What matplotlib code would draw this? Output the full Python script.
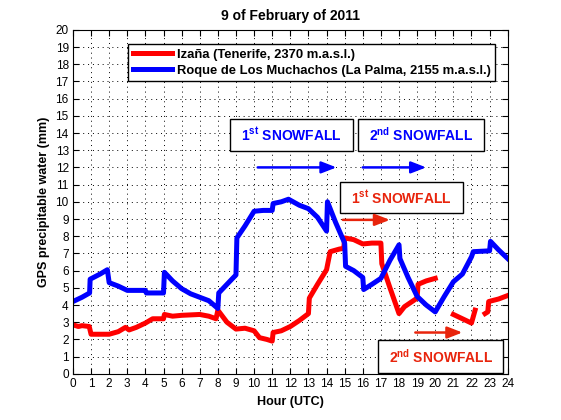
import numpy as np
import matplotlib
matplotlib.use("Agg")
import matplotlib.pyplot as plt
from matplotlib.patches import Rectangle

plt.rcParams['font.family'] = 'Liberation Sans'
plt.rcParams['mathtext.fontset'] = 'custom'
plt.rcParams['mathtext.rm'] = 'Liberation Sans:bold'
plt.rcParams['mathtext.bf'] = 'Liberation Sans:bold'

# Roque de Los Muchachos (blue)
hora_roque = [0, 0.5, 0.92, 0.95, 1.5, 1.9, 2.0, 2.5, 3.0, 4.0, 4.05, 5.0, 5.05, 5.5, 6.0,
              6.5, 7.0, 7.5, 8.0, 8.05, 8.5, 9.0, 9.05, 9.5, 10.0, 10.5, 11.0, 11.05, 11.5,
              11.9, 12.5, 13.0, 13.5, 14.0, 14.05, 14.5, 15.0, 15.05, 15.5, 16.0, 16.05,
              16.5, 17.0, 17.5, 18.0, 18.05, 18.5, 19.0, 19.5, 20.0, 20.5, 21.0, 21.5,
              22.0, 22.1, 23.0, 23.05, 23.5, 24.0]
pw_roque = [4.2, 4.45, 4.7, 5.5, 5.8, 6.05, 5.3, 5.1, 4.85, 4.85, 4.7, 4.7, 5.9, 5.4, 4.95,
            4.65, 4.45, 4.25, 3.8, 4.7, 5.2, 5.75, 7.9, 8.6, 9.45, 9.5, 9.5, 9.9, 10.0,
            10.15, 9.8, 9.6, 9.1, 8.3, 10.0, 8.8, 7.6, 6.25, 6.0, 5.6, 4.9,
            5.2, 5.55, 6.6, 7.5, 6.7, 5.6, 4.5, 4.0, 3.6, 4.5, 5.35, 5.8,
            6.8, 7.1, 7.15, 7.7, 7.2, 6.7]

# Izaña (red), NaN = no data
hora_izana = [0, 0.3, 0.5, 0.9, 1.0, 1.5, 2.0, 2.5, 2.9, 3.1, 3.5, 4.0, 4.4, 5.0, 5.05,
              5.5, 6.0, 7.0, 7.5, 7.9, 8.0, 8.5, 9.0, 9.5, 10.0, 10.3, 10.7, 11.0, 11.05,
              11.5, 12.0, 12.5, 13.0, 13.05, 13.5, 14.0, 14.2, 14.7, 14.95, 15.0, 15.5,
              16.0, 16.5, 17.0, 17.05, 17.5, 18.0, 18.3, 19.0, 19.05, 19.5, 20.0, 20.5,
              21.0, 21.5, 22.0, 22.2, 22.5, 22.75, 22.9, 22.95, 23.5, 24.0]
pw_izana = [2.85, 2.75, 2.8, 2.75, 2.3, 2.3, 2.3, 2.45, 2.7, 2.55, 2.7, 2.95, 3.2, 3.2, 3.45,
            3.35, 3.4, 3.45, 3.35, 3.2, 3.7, 3.0, 2.6, 2.65, 2.5, 2.1, 2.0, 1.9, 2.4,
            2.5, 2.75, 3.1, 3.5, 4.4, 5.2, 6.05, 7.1, 7.25, 7.3, 7.9, 7.8,
            7.55, 7.6, 7.6, 6.4, 5.0, 3.5, 3.9, 4.4, 5.2, 5.4, 5.55, np.nan,
            3.45, 3.2, 2.95, 3.7, np.nan, 3.5, 3.6, 4.2, 4.35, 4.55]

rojo = '#e8240c'
azul = '#0000ff'

fig = plt.figure(figsize=(5.61, 4.2), dpi=100)
ax = fig.add_axes([0.130, 0.110, 0.775, 0.819])

ax.plot(hora_izana, pw_izana, color='#ff0000', lw=3.6, label='Izaña (Tenerife, 2370 m.a.s.l.)')
ax.plot(hora_roque, pw_roque, color=azul, lw=3.6, label='Roque de Los Muchachos (La Palma, 2155 m.a.s.l.)')

ax.set_xlim(0, 24)
ax.set_ylim(0, 20)
ax.set_xticks(range(0, 25))
ax.set_yticks(range(0, 21))
ax.tick_params(direction='in', top=True, right=True, labelsize=8.5, length=4, pad=3)
ax.grid(True, color='black', linestyle=(0, (1, 4)), linewidth=0.7)
for s in ax.spines.values():
    s.set_linewidth(0.8)

ax.set_title('9 of February of 2011', fontsize=10, fontweight='bold', pad=7)
ax.set_xlabel('Hour (UTC)', fontsize=9, fontweight='bold')
ax.set_ylabel('GPS precipitable water (mm)', fontsize=9, fontweight='bold')

leg = ax.legend(loc='upper right', bbox_to_anchor=(0.986, 0.978), fancybox=False,
                edgecolor='black', framealpha=1, handlelength=3.0, handletextpad=0.35,
                prop={'weight': 'bold', 'size': 9.4}, borderpad=0.35, labelspacing=0.3)
leg.get_frame().set_linewidth(1.0)

# snowfall boxes
cajas = [
    (8.67, 12.97, 6.8, 1.86, r'1$^{\mathbf{st}}$ SNOWFALL', azul),
    (15.75, 12.97, 6.95, 1.86, r'2$^{\mathbf{nd}}$ SNOWFALL', azul),
    (14.75, 9.36, 6.8, 1.8, r'1$^{\mathbf{st}}$ SNOWFALL', rojo),
    (16.85, 0.06, 6.9, 1.92, r'2$^{\mathbf{nd}}$ SNOWFALL', rojo),
]
for x0, y0, w, h, txt, c in cajas:
    ax.add_patch(Rectangle((x0, y0), w, h, facecolor='white', edgecolor='black', lw=1.0, zorder=4))
    ax.text(x0 + w / 2, y0 + h / 2, txt, color=c, fontsize=10, fontweight='bold',
            ha='center', va='center', zorder=5)

flechas = [
    (10.2, 14.55, 12.0, azul),
    (16.0, 19.5, 12.0, azul),
    (14.9, 17.5, 8.95, rojo),
    (18.9, 21.5, 2.4, rojo),
]
for x0, x1, y, c in flechas:
    ax.annotate('', xy=(x1, y), xytext=(x0, y),
                arrowprops=dict(arrowstyle='-|>,head_length=0.9,head_width=0.35',
                                color=c, lw=1.8, shrinkA=0, shrinkB=0), zorder=5)

fig.savefig('out.png', dpi=100)
